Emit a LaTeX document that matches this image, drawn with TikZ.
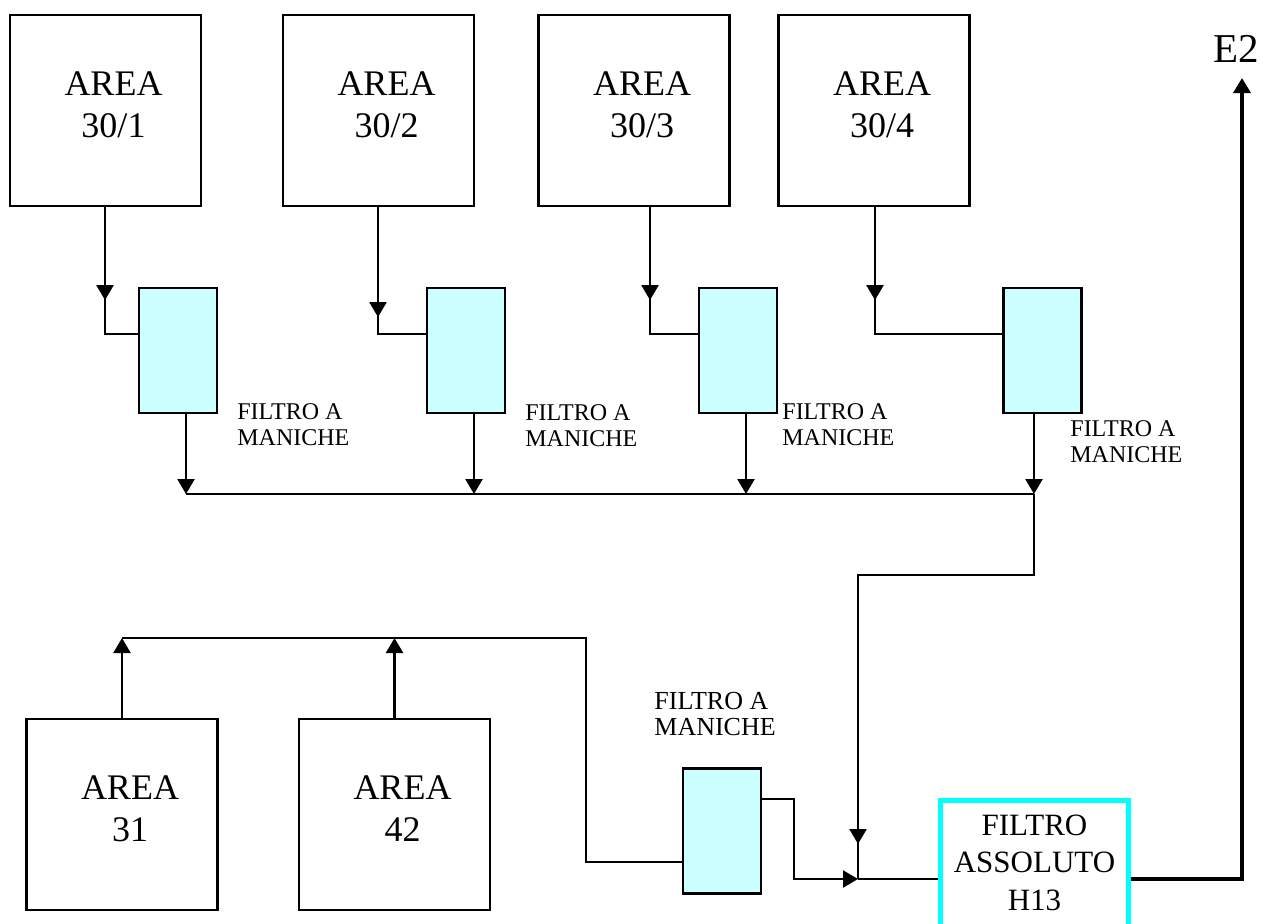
\documentclass[tikz,border=0pt]{standalone}
\usepackage{fontspec}
\setmainfont{Liberation Serif}
\usetikzlibrary{arrows.meta,decorations.markings,positioning}
\definecolor{filtcyan}{RGB}{204,255,255}
\definecolor{abscyan}{RGB}{0,255,255}
\newcommand{\areabox}[4]{%
  \node[areabox] (#1) at (#2,#3) {};
  \node[areatext] (#1t) at ([xshift=4pt,yshift=3pt]#1.center) {AREA\\#4};
}
\newcommand{\filterbox}[3]{%
  \node[filterbox] (#1) at (#2,#3) {};
}

\begin{document}
\begin{tikzpicture}[x=.5pt,y=-.5pt,
    areabox/.style={draw,line width=1.1pt,minimum width=95.5pt,minimum height=95.5pt},
    areatext/.style={align=center,inner sep=0pt,font=\fontsize{18}{21}\selectfont},
    filterbox/.style={draw,fill=filtcyan,line width=1.1pt,minimum width=39pt,minimum height=62.5pt},
    absbox/.style={draw=abscyan,line width=2.5pt,minimum width=94pt,minimum height=95pt},
    smlabel/.style={align=left,anchor=base west,inner sep=0pt,font=\fontsize{12}{13}\selectfont},
    flow/.style={line width=1.15pt},
    tip/.style={-{Triangle[width=8.5pt,length=7.5pt]}},
    arrowat/.style={postaction={decorate},decoration={markings,
      mark=at position #1 with {\arrow{Triangle[width=8.5pt,length=7.5pt]}}}}]
  \useasboundingbox (0,0) rectangle (1264,923);
  \clip (0,0) rectangle (1264,923);
  % areas 30
  \areabox{a1}{105.5}{110.5}{30/1}
  \areabox{a2}{378.5}{110.5}{30/2}
  \areabox{a3}{634}{110.5}{30/3}
  \areabox{a4}{874}{110.5}{30/4}
  % filtri a maniche
  \filterbox{f1}{178}{350.5}
  \filterbox{f2}{466}{350.5}
  \filterbox{f3}{738}{350.5}
  \filterbox{f4}{1042.5}{350.5}
  \foreach \i/\dx/\at in {1/105/46.5pt,2/378/55pt,3/650/46.5pt,4/875/46.5pt}{
    \coordinate (d\i) at (\dx,0);
    \draw[flow,arrowat=\at] (a\i.south -| d\i) |- ([yshift=8.25pt]f\i.west);
  }
  \foreach \i/\ox in {1/186,2/474,3/746,4/1034}{
    \coordinate (b\i) at (\ox,494);
    \draw[flow,tip] (f\i.south -| b\i) -- (b\i);
  }
  \draw[flow] (b1) -- (b4);
  \node[smlabel] (l1) at (237,445) {FILTRO A\\MANICHE};
  \node[smlabel] (l2) at (525,446) {FILTRO A\\MANICHE};
  \node[smlabel] (l3) at (782,445) {FILTRO A\\MANICHE};
  \node[smlabel] (l4) at (1070,462) {FILTRO A\\MANICHE};
  % to the absolute filter
  \coordinate (k) at (858,575);
  \coordinate (j) at (858,879);
  \draw[flow,arrowat=263pt] (b4) |- (k) -- (j);
  % areas 31 and 42
  \areabox{a31}{122}{814.5}{31}
  \areabox{a42}{394.5}{814.5}{42}
  \filterbox{f5}{722}{831}
  \coordinate (u1) at (122,638);
  \coordinate (u2) at (394.5,638);
  \coordinate (m) at (586,862);
  \draw[flow,tip] (a31.north) -- (u1);
  \draw[flow,tip] (a42.north) -- (u2);
  \draw[flow] (u1) -| (m) -- (f5.west |- m);
  \node[smlabel,font=\fontsize{13}{13}\selectfont] (l5) at (654,735) {FILTRO A\\MANICHE};
  \coordinate (n) at (794,879);
  \draw[flow,tip] ([yshift=16pt]f5.east) -| (n) -- (j);
  % filtro assoluto
  \node[absbox] (fa) at (1034.5,895) {};
  \node[align=center,anchor=base,font=\fontsize{15.5}{18.75}\selectfont] (fat) at (1034.5,910)
    {FILTRO\\ASSOLUTO\\H13};
  \draw[flow] (j) -- (fa.west |- j);
  \coordinate (e) at (1242,78);
  \draw[line width=1.8pt,tip] (fa.east |- j) -| (e);
  \node[anchor=base,font=\fontsize{20.5}{20.5}\selectfont] (e2) at (1236.5,62) {E2};
\end{tikzpicture}
\end{document}
